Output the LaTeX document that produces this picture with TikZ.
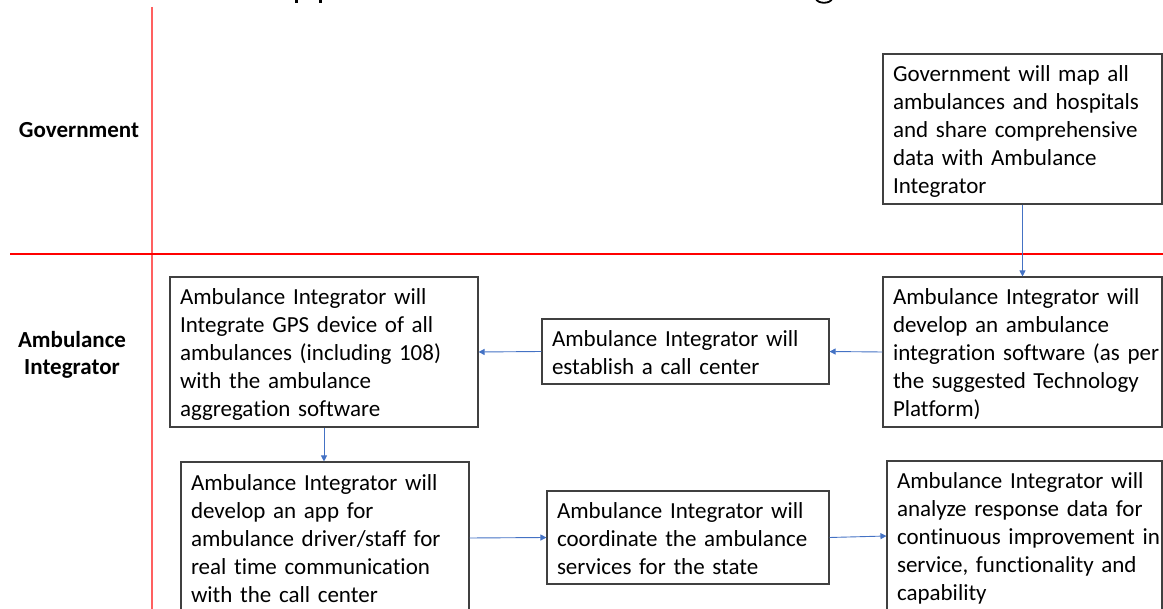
\documentclass[tikz,border=0pt]{standalone}
\usepackage{fontspec}
\setmainfont{Carlito}[Ligatures=NoCommon]
\usetikzlibrary{arrows.meta}
% one line per row, so the wrapping stays exactly as written; the rows sit
% slightly below the optical centre of their box
\newcommand{\boxrows}[1]{\raisebox{-3pt}[\height][\depth]{\begin{tabular}{@{}l@{}}#1\end{tabular}}}
\definecolor{boxgray}{RGB}{64,64,64}
\definecolor{flowblue}{RGB}{68,114,196}
\definecolor{lanered}{RGB}{255,96,96}
\begin{document}
\begin{tikzpicture}[x=1pt,y=-1pt,
  every node/.style={font=\fontsize{23}{28}\selectfont},
  stepbox/.style={draw=boxgray, line width=1.1pt, rectangle, inner xsep=10pt,
    inner ysep=0pt, align=left},
  lanelabel/.style={font=\fontsize{23}{27}\selectfont\bfseries, align=center},
  flow/.style={draw=flowblue, line width=0.9pt, -{Triangle[length=6pt,width=6pt]}},
  laneh/.style={draw=red, line width=1.4pt},
  lanev/.style={draw=lanered, line width=2pt}]
\useasboundingbox (0,0) rectangle (1163,609);
\clip (0,0) rectangle (1163,609);

% swim-lane separators
\draw[lanev] (152,7) -- (152,609);
\draw[laneh] (10,254) -- (1163,254);

% descenders of the heading above the frame
\fill (295,0) rectangle (298,3);
\fill (319,0) rectangle (322,3);
\draw[line width=1.8pt] (816,-1) .. controls (818,4) and (830,4) .. (832,-1);

% lane labels
\node[lanelabel] (govlabel) at (79,130) {Government};
\node[lanelabel] (ailabel) at (72,355) {Ambulance\\Integrator};

% process steps
\node[stepbox, text width=259pt, minimum height=150pt] (gov) at (1022.5,129)
  {\boxrows{Government will map all\\ambulances and hospitals\\and share comprehensive\\data with Ambulance\\Integrator}};
\node[stepbox, text width=259pt, minimum height=150pt] (integ) at (1022.5,352)
  {\boxrows{Ambulance Integrator will\\develop an ambulance\\integration software (as per\\the suggested Technology\\Platform)}};
\node[stepbox, text width=267pt, minimum height=65pt] (call) at (685.5,351.5)
  {\boxrows{Ambulance Integrator will\\establish a call center}};
\node[stepbox, text width=288pt, minimum height=150pt] (gps) at (324,352)
  {\boxrows{Ambulance Integrator will\\Integrate GPS device of all\\ambulances (including 108)\\with the ambulance\\aggregation software}};
\node[stepbox, text width=268pt, minimum height=152pt] (app) at (325,538)
  {\boxrows{Ambulance Integrator will\\develop an app for\\ambulance driver/staff for\\real time communication\\with the call center}};
\node[stepbox, text width=262pt, minimum height=93pt] (coord) at (688,537.5)
  {\boxrows{Ambulance Integrator will\\coordinate the ambulance\\services for the state}};
\node[stepbox, text width=255pt, minimum height=150pt] (analyze) at (1024.5,536)
  {\boxrows{Ambulance Integrator will\\analyze response data for\\continuous improvement in\\service, functionality and\\capability}};

% connectors
\draw[flow] (gov.south) -- (integ.north);
\draw[flow] (integ.west) -- (call.east);
\draw[flow] (call.west) -- (gps.east);
\draw[flow] (gps.south) -- (gps.south |- app.north);
\draw[flow] (app.east) -- (coord.west);
\draw[flow] (coord.east) -- (analyze.west);
\end{tikzpicture}
\end{document}
